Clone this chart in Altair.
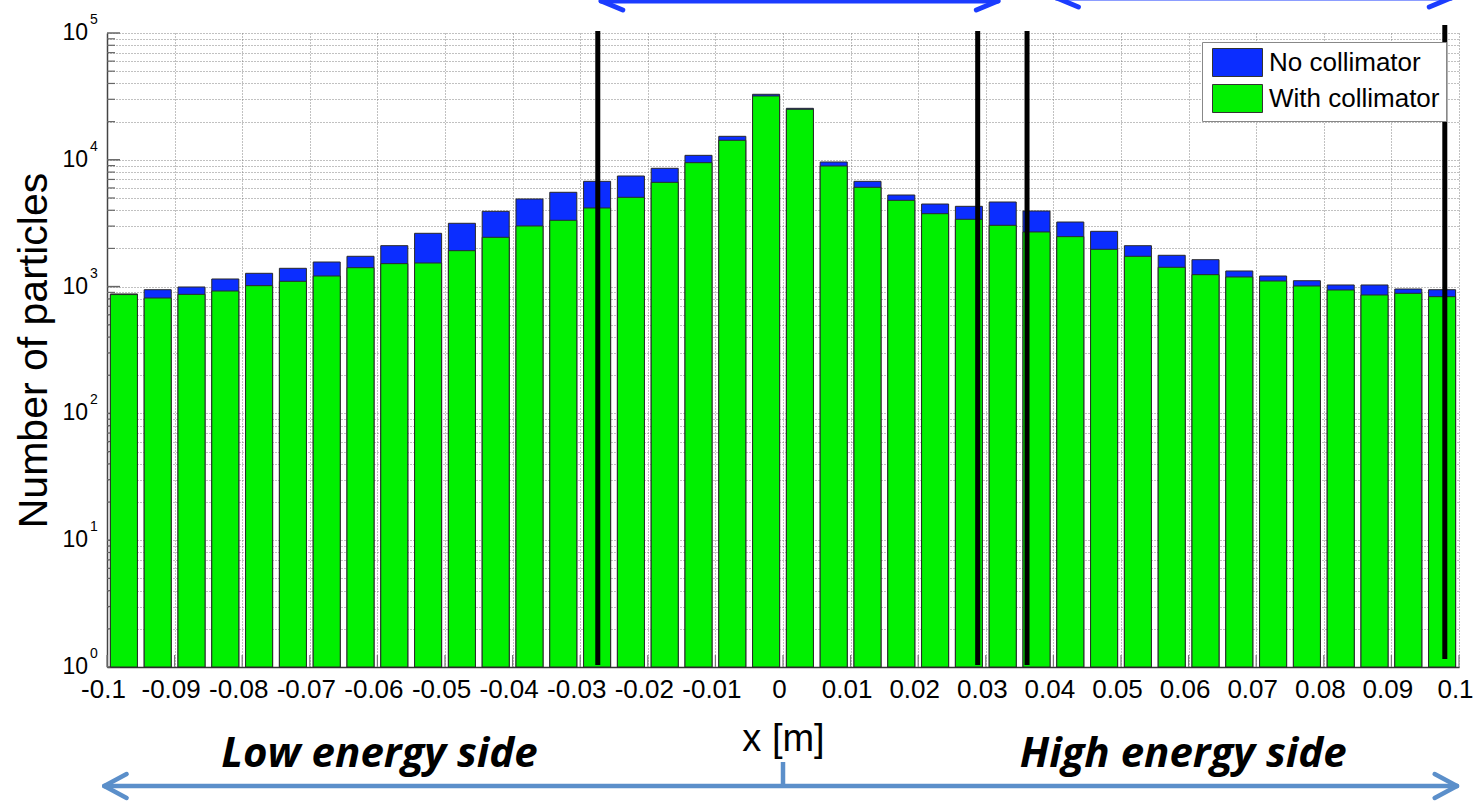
import altair as alt
import pandas as pd

# ---- histogram data (bin width 5 mm) ----
bin_width = 0.005
x_centers = [round(-0.0975 + bin_width * k, 4) for k in range(40)]

no_collimator = [875, 945, 993, 1148, 1273, 1394, 1563, 1734, 2103, 2632,
                 3157, 3925, 4910, 5544, 6765, 7451, 8570, 10845, 15316, 32860,
                 25470, 9610, 6765, 5277, 4480, 4297, 4647, 3946, 3231, 2729,
                 2102, 1766, 1630, 1328, 1212, 1113, 1030, 1030, 957, 945]
with_collimator = [865, 813, 869, 923, 1017, 1101, 1212, 1410, 1517, 1535,
                   1920, 2448, 3006, 3334, 4169, 5060, 6641, 9491, 14253, 31860,
                   25010, 8935, 6070, 4790, 3758, 3395, 3043, 2697, 2477, 1968,
                   1733, 1420, 1242, 1191, 1107, 1011, 940, 859, 885, 833]

series_names = ["No collimator", "With collimator"]
series_colors = ["#0b2dff", "#00f000"]

x_ticks = [round(-0.1 + 0.01 * i, 2) for i in range(21)]
y_exponents = [0, 1, 2, 3, 4, 5]
y_major = [10 ** e for e in y_exponents]
y_minor = [m * 10 ** e for e in range(5) for m in range(2, 10)]

# annotation positions along x (metres)
marker_x = [-0.0274, 0.0288, 0.0361, 0.0979]
marker_top = [-2, -2, -2, -8]
marker_bottom = [632, 632, 632, 626]
top_arrows = [(-0.0269, 0.0318, -32), (0.0405, 0.0988, -35)]
side_labels = [("Low energy side", -0.0597), ("High energy side", 0.0592)]

W, H = 1352, 634
FONT = "Liberation Sans"

rows = []
for name, vals in zip(series_names, [no_collimator, with_collimator]):
    for c, v in zip(x_centers, vals):
        rows.append({"series": name, "x0": c - 0.002, "x1": c + 0.002,
                     "count": v, "base": 1})
bars_df = pd.DataFrame(rows)

x_scale = alt.Scale(domain=[-0.1, 0.1], nice=False, zero=False)
y_scale = alt.Scale(type="log", domain=[1, 100000], nice=False)

x_axis = alt.Axis(
    values=x_ticks,
    labelExpr="datum.value == 0 ? '0' : replace(format(datum.value, '.2~f'), '\u2212', '-')",
    labelFontSize=26, labelFont=FONT, labelColor="black",
    labelPadding=22, labelBaseline="middle", labelFlush=False, labelOverlap=False,
    labelOffset=-4,
    ticks=False, grid=True, gridDash=[1, 2], gridColor="#777", gridOpacity=0.9,
    domainColor="#333", domainWidth=1.5,
    title="x [m]", titleFontSize=38, titleFont=FONT, titleFontWeight="normal",
    titleColor="black", titleY=72, titleBaseline="middle",
)
y_axis = alt.Axis(
    values=y_major + y_minor, labels=False, ticks=False,
    grid=True, gridDash=[1, 2], gridColor="#777", gridOpacity=0.9,
    domainColor="#444", domainWidth=1.5,
    title="Number of particles", titleFontSize=41, titleFont=FONT,
    titleFontWeight="normal", titleColor="black",
    titleAngle=270, titleX=-73, titleY=H / 2,
    titleAlign="center", titleBaseline="middle",
)


def X(field):
    return alt.X(field, scale=x_scale, axis=x_axis)


def Y(field):
    return alt.Y(field, scale=y_scale, axis=y_axis)


legend = alt.Legend(
    orient="none", legendX=1095, legendY=9, direction="vertical", title=None,
    symbolType="M-0.714,-1H2.857V1H-0.714Z", symbolSize=784,
    symbolStrokeColor="#333", symbolStrokeWidth=1, symbolOpacity=1,
    labelFontSize=26, labelFont=FONT, labelColor="black", labelOffset=32,
    labelLimit=0, rowPadding=3, padding=6,
    strokeColor="#888", fillColor="white",
)

# inward tick marks on the left and bottom axes
major_ticks = alt.Chart(pd.DataFrame({"v": y_major})).mark_rule(
    color="#666", strokeWidth=1.5).encode(
    y=Y("v:Q"), x=alt.value(0), x2=alt.value(13))
minor_ticks = alt.Chart(pd.DataFrame({"v": y_minor})).mark_rule(
    color="#666", strokeWidth=1.2).encode(
    y=Y("v:Q"), x=alt.value(0), x2=alt.value(8))
bottom_ticks = alt.Chart(pd.DataFrame({"t": x_ticks})).mark_rule(
    color="#777", strokeWidth=1.2).encode(
    x=X("t:Q"), y=alt.value(H), y2=alt.value(H - 12))

bars = alt.Chart(bars_df).mark_bar(stroke="#2a2a2a", strokeWidth=1, opacity=1).encode(
    x=X("x0:Q"),
    x2="x1",
    y=Y("count:Q"),
    y2="base",
    color=alt.Color("series:N",
                    scale=alt.Scale(domain=series_names, range=series_colors),
                    legend=legend),
)

# y tick labels written as 10 with a raised exponent
exp_df = pd.DataFrame({"v": y_major, "e": [str(e) for e in y_exponents]})
ten_labels = alt.Chart(exp_df).mark_text(
    align="right", baseline="middle", fontSize=23, font=FONT, color="black").encode(
    y=Y("v:Q"), x=alt.value(-19), text=alt.value("10"))
exp_labels = alt.Chart(exp_df).mark_text(
    align="left", baseline="middle", fontSize=14, font=FONT, color="black", dy=-13).encode(
    y=Y("v:Q"), x=alt.value(-17), text="e:N")


def seg(xa, xb, ya, yb, color, width):
    df = pd.DataFrame({"xa": [xa], "xb": [xb]})
    return alt.Chart(df).mark_rule(color=color, strokeWidth=width, strokeCap="round").encode(
        x=X("xa:Q"), x2="xb", y=alt.value(ya), y2=alt.value(yb))


def vline(x, ya, yb, color, width):
    df = pd.DataFrame({"xa": [x]})
    return alt.Chart(df).mark_rule(color=color, strokeWidth=width).encode(
        x=X("xa:Q"), y=alt.value(ya), y2=alt.value(yb))


layers = [major_ticks, minor_ticks, bottom_ticks, bars, ten_labels, exp_labels]

# black vertical markers
for mx, t, b in zip(marker_x, marker_top, marker_bottom):
    layers.append(vline(mx, t, b, "black", 5))

# double arrows along the top edge
TOP_BLUE = "#1b3cff"
for a, b, yy in top_arrows:
    layers.append(seg(a, b, yy, yy, TOP_BLUE, 5))
    layers.append(seg(a, a + 0.0032, yy, yy + 9, TOP_BLUE, 5))
    layers.append(seg(b, b - 0.0032, yy, yy + 9, TOP_BLUE, 5))

# energy-side arrow beneath the axis
ARROW = "#5b8fca"
ay = 753
left_tip, right_tip = -0.1004, 0.0997
layers.append(seg(left_tip, right_tip, ay, ay, ARROW, 4.5))
layers.append(seg(left_tip, left_tip + 0.0033, ay, ay - 12, ARROW, 4.5))
layers.append(seg(left_tip, left_tip + 0.0033, ay, ay + 12, ARROW, 4.5))
layers.append(seg(right_tip, right_tip - 0.0033, ay, ay - 12, ARROW, 4.5))
layers.append(seg(right_tip, right_tip - 0.0033, ay, ay + 12, ARROW, 4.5))
layers.append(vline(0.0, 729, ay, ARROW, 4.5))

side_df = pd.DataFrame({"label": [s[0] for s in side_labels],
                        "xc": [s[1] for s in side_labels]})
layers.append(alt.Chart(side_df).mark_text(
    font="Open Sans", fontSize=42, fontWeight="bold", fontStyle="italic",
    color="black", align="center", baseline="alphabetic").encode(
    x=X("xc:Q"), y=alt.value(734), text="label:N"))

chart = alt.layer(*layers).properties(
    width=W, height=H,
    padding={"left": 107, "top": 33, "right": 17, "bottom": 135},
    autosize=alt.AutoSizeParams(type="none"),
).configure(font=FONT).configure_view(stroke=None)

chart.save("out.html", embed_options={"renderer": "svg", "actions": False})
